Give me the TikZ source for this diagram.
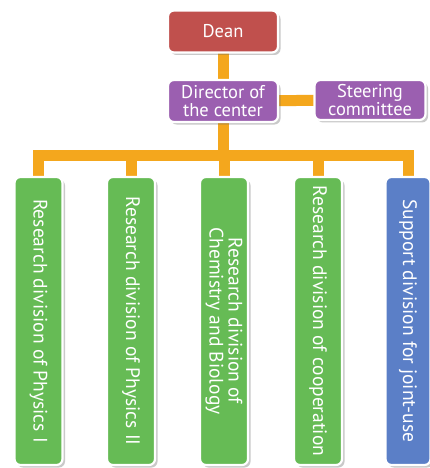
\documentclass[tikz,border=0pt]{standalone}
\usepackage{fontspec}
\setmainfont{PT Sans}
\usetikzlibrary{shadows,backgrounds}
\definecolor{deanred}{HTML}{C0504D}
\definecolor{dirpurple}{HTML}{9B5FB0}
\definecolor{divgreen}{HTML}{66BB55}
\definecolor{supblue}{HTML}{5B7FC7}
\definecolor{linkorange}{HTML}{F4A71D}
\tikzset{
  box/.style={draw=white, line width=2.2pt, rounded corners=6pt, text=white,
    align=center, inner sep=0pt,
    drop shadow={shadow xshift=2.5pt, shadow yshift=-2.5pt, opacity=0.35, fill=black!60}},
  topbox/.style={box, minimum width=110pt, minimum height=42pt, font=\fontsize{18.5}{18}\selectfont},
  divbox/.style={box, fill=divgreen, minimum width=288pt, minimum height=48pt,
    rotate=-90, font=\fontsize{19.5}{19}\selectfont},
  link/.style={draw=linkorange, line width=11pt}
}
\begin{document}
\begin{tikzpicture}[x=1pt,y=-1pt]
\useasboundingbox (0,0) rectangle (430,468);
\node[topbox, fill=deanred] (dean) at (223,31.5) {Dean};
\node[topbox, fill=dirpurple] (dir) at (223,101) {Director of\\the center};
\node[topbox, fill=dirpurple, minimum width=111pt, minimum height=40pt] (steer) at (370,100) {Steering\\committee};
\node[divbox] (d1) at (38.5,321) {Research division of Physics I};
\node[divbox] (d2) at (131,321) {Research division of Physics II};
\node[divbox] (d3) at (224,321) {Research division of\\Chemistry and Biology};
\node[divbox] (d4) at (318,321) {Research division of cooperation};
\node[divbox, fill=supblue, minimum height=45pt] (d5) at (408,321) {Support division for joint-use};
\coordinate (barM) at (223,155);
\begin{pgfonlayer}{background}
\fill[white] (0,0) rectangle (430,468);
\draw[link] (dean.center) -- (dir.center);
\draw[link] (dir.center) -- (steer.center);
\draw[link] (dir.center) -- (barM);
\draw[link, line join=miter] (d1.center) |- (barM) -| (d5.center);
\draw[link] (d2.center) |- (barM);
\draw[link] (d3.center) |- (barM);
\draw[link] (d4.center) |- (barM);
\end{pgfonlayer}
\end{tikzpicture}
\end{document}
